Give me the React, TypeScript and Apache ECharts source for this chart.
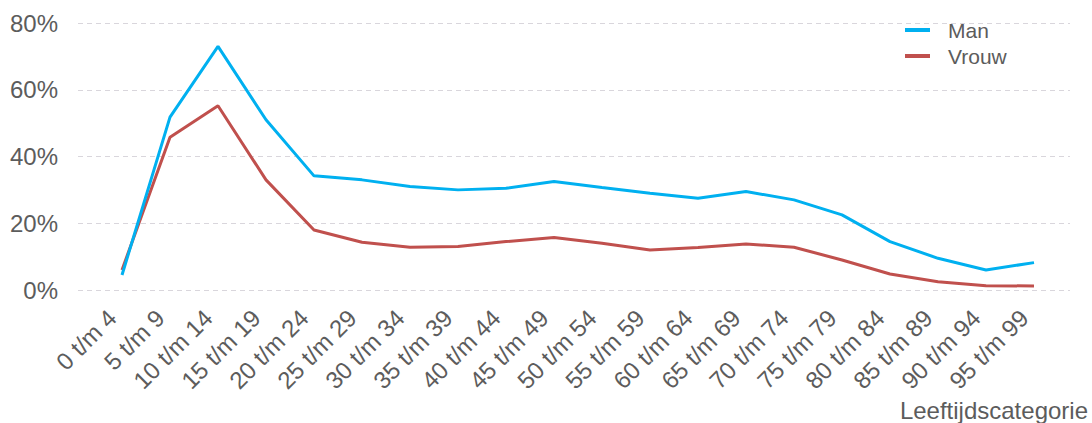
import React, { useEffect, useRef } from "react";
import * as echarts from "echarts";

const categories = [
  "0 t/m 4", "5 t/m 9", "10 t/m 14", "15 t/m 19", "20 t/m 24", "25 t/m 29",
  "30 t/m 34", "35 t/m 39", "40 t/m 44", "45 t/m 49", "50 t/m 54", "55 t/m 59",
  "60 t/m 64", "65 t/m 69", "70 t/m 74", "75 t/m 79", "80 t/m 84", "85 t/m 89",
  "90 t/m 94", "95 t/m 99",
];
const manValues = [4.5, 51.8, 73, 51, 34.2, 33, 31, 30, 30.5, 32.5, 30.7, 29, 27.5, 29.5, 27, 22.5, 14.5, 9.5, 6, 8.2];
const vrouwValues = [6, 45.8, 55.2, 33, 18, 14.3, 12.8, 13, 14.5, 15.7, 14, 12, 12.7, 13.8, 12.8, 9, 4.8, 2.5, 1.3, 1.2];
const yTicks = [0, 20, 40, 60, 80];
const axisTitle = "Leeftijdscategorie";

const FONT = "'Liberation Sans', Arial, sans-serif";
const TEXT = "#5c5c5c";

export default function App() {
  const ref = useRef<HTMLDivElement>(null);
  useEffect(() => {
    if (!ref.current) return;
    const chart = echarts.init(ref.current, undefined, { renderer: "svg" });
    const yMin = yTicks[0];
    const yMax = yTicks[yTicks.length - 1];
    const step = yTicks[1] - yTicks[0];
    chart.setOption({
      animation: false,
      backgroundColor: "#ffffff",
      textStyle: { fontFamily: FONT },
      grid: [
        { left: 78, right: 22, top: 23, bottom: 133 },
        { left: 98, right: 34, top: 23, bottom: 133 },
      ],
      legend: {
        orient: "vertical",
        left: 900,
        top: 14,
        itemWidth: 25,
        itemHeight: 4,
        itemGap: 4,
        icon: "rect",
        textStyle: {
          fontFamily: FONT,
          fontSize: 21,
          color: TEXT,
          lineHeight: 22,
          padding: [0, 0, 0, 13],
        },
        data: ["Man", "Vrouw"],
      },
      xAxis: [
        { gridIndex: 0, type: "value", show: false, min: 0, max: 1 },
        {
          gridIndex: 1,
          type: "category",
          data: categories,
          boundaryGap: true,
          axisLine: { show: false },
          axisTick: { show: false },
          axisLabel: {
            interval: 0,
            rotate: 45,
            margin: 14,
            padding: [0, 14, 0, 0],
            fontSize: 24,
            color: TEXT,
            fontFamily: FONT,
          },
        },
      ],
      yAxis: [
        {
          gridIndex: 0,
          type: "value",
          min: yMin,
          max: yMax,
          interval: step,
          axisLine: { show: false },
          axisTick: { show: false },
          axisLabel: {
            formatter: "{value}%",
            fontSize: 24,
            color: TEXT,
            fontFamily: FONT,
            margin: 20,
          },
          splitLine: { lineStyle: { color: "#d9d6dc", type: [5, 4], width: 1 } },
        },
        {
          gridIndex: 1,
          type: "value",
          min: yMin,
          max: yMax,
          interval: step,
          show: false,
          splitLine: { show: false },
        },
      ],
      series: [
        {
          name: "Man",
          type: "line",
          xAxisIndex: 1,
          yAxisIndex: 1,
          data: manValues,
          symbol: "none",
          lineStyle: { color: "#00b0f0", width: 3 },
          itemStyle: { color: "#00b0f0" },
        },
        {
          name: "Vrouw",
          type: "line",
          xAxisIndex: 1,
          yAxisIndex: 1,
          data: vrouwValues,
          symbol: "none",
          lineStyle: { color: "#c0504d", width: 3 },
          itemStyle: { color: "#c0504d" },
          z: 1,
        },
      ],
      graphic: [
        {
          type: "text",
          right: 4,
          top: 398,
          style: {
            text: axisTitle,
            fontSize: 24,
            fontFamily: FONT,
            fill: TEXT,
          },
        },
      ],
    });
    return () => chart.dispose();
  }, []);
  return (
    <div
      ref={ref}
      style={{ position: "fixed", left: 0, top: 0, width: 1092, height: 423 }}
    />
  );
}
